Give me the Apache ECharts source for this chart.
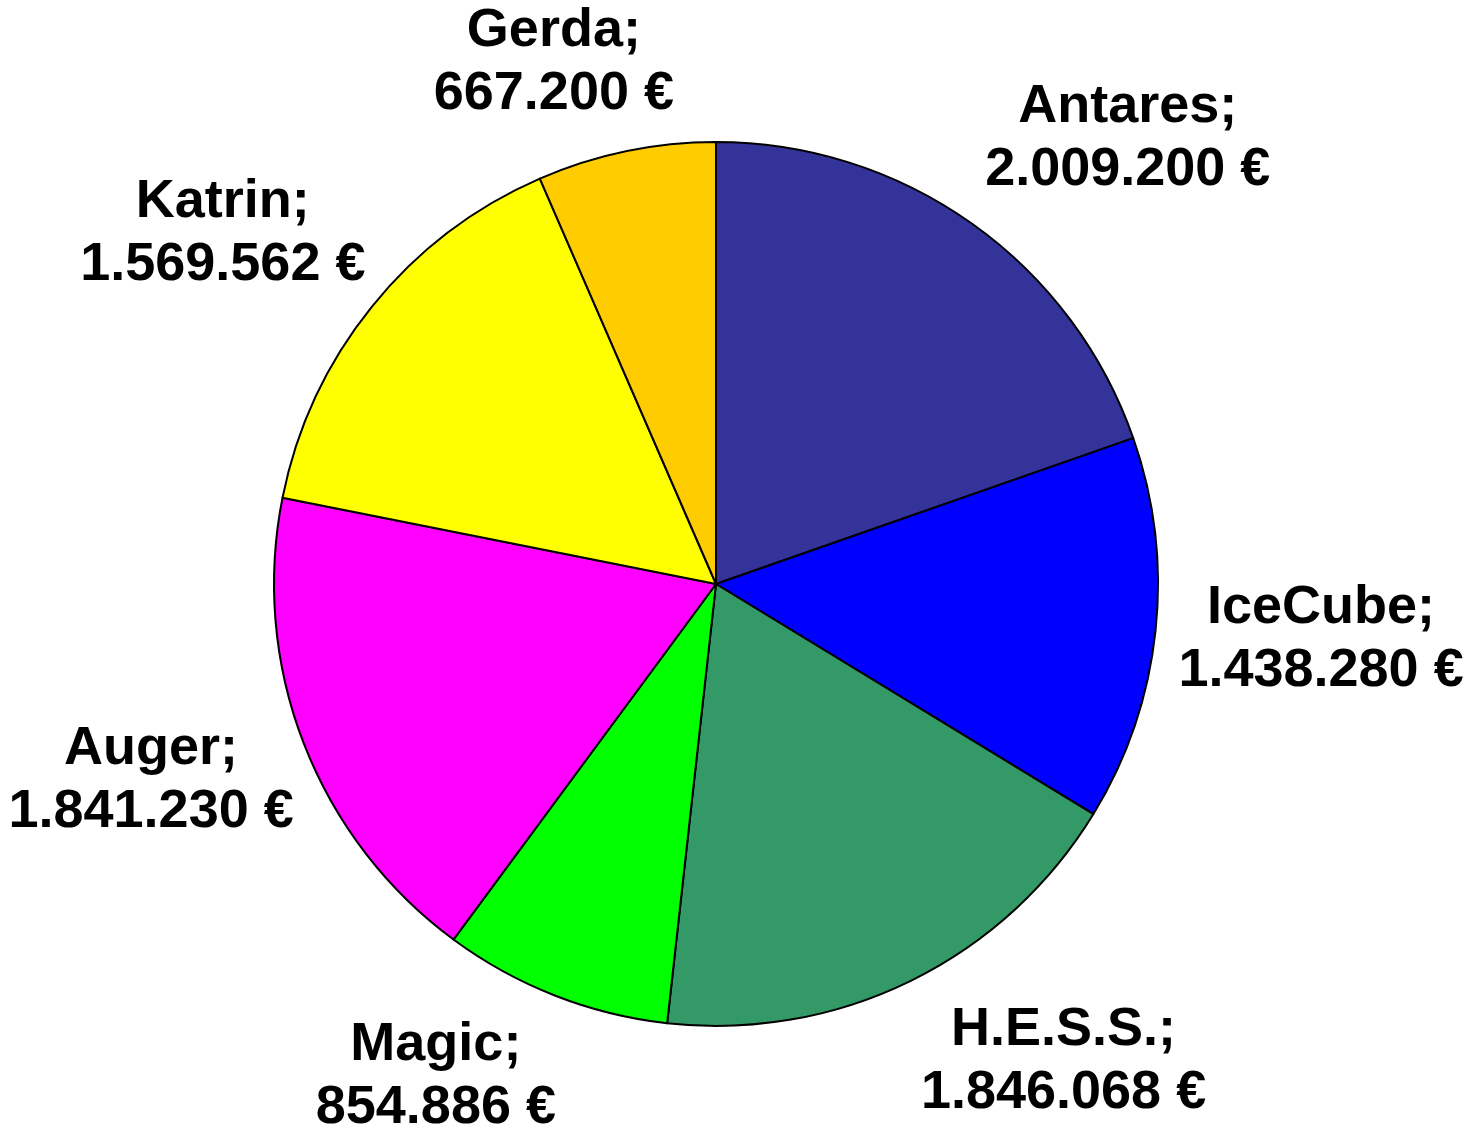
<!DOCTYPE html>
<html>
<head>
<meta charset="utf-8">
<script src="https://cdn.jsdelivr.net/npm/echarts@6/dist/echarts.min.js"></script>
<style>
  html, body { margin: 0; padding: 0; background: #fff; }
  #chart { width: 1472px; height: 1137px; }
</style>
</head>
<body>
<div id="chart"></div>
<script>
// Werte aus dem Bild (Euro)
const names = ["Antares", "IceCube", "H.E.S.S.", "Magic", "Auger", "Katrin", "Gerda"];
const values = [2009200, 1438280, 1846068, 854886, 1841230, 1569562, 667200];
const colors = ["#333399", "#0000FF", "#339966", "#00FF00", "#FF00FF", "#FFFF00", "#FFCC00"];

const center = [716, 584];
const radius = 442;

function euro(v) {
  return String(v).replace(/\B(?=(\d{3})+(?!\d))/g, ".") + " €";
}

// Mittelwinkel jedes Stücks (im Uhrzeigersinn ab 12 Uhr)
const total = values.reduce((a, b) => a + b, 0);
let acc = 0;
const midAngles = values.map(v => {
  let mid = (acc + v / 2) / total * Math.PI * 2;
  acc += v;
  return mid;
});

const clamp = v => Math.max(-1, Math.min(1, v));

let chart = echarts.init(document.getElementById("chart"));
chart.setOption({
  animation: false,
  series: [
    {
      type: "pie",
      center: center,
      radius: radius,
      startAngle: 90,
      clockwise: true,
      data: names.map((n, i) => ({ name: n, value: values[i], itemStyle: { color: colors[i] } })),
      itemStyle: {
        borderColor: "#000",
        borderWidth: 2,
      },
      label: {
        show: true,
        position: "outside",
        overflow: "none",
        formatter: p => p.name + ";\n" + euro(p.value),
        fontFamily: "Liberation Sans, Arial, sans-serif",
        fontWeight: "bold",
        fontSize: 54,
        lineHeight: 63,
        color: "#000",
      },
      labelLine: { show: false },
      // Beschriftung außen am Stück, wie in Excel
      labelLayout: function (params) {
        let a = midAngles[params.dataIndex];
        let ux = Math.sin(a), uy = -Math.cos(a);
        let d = radius + 23;
        let w = params.labelRect.width, h = params.labelRect.height;
        let fx = clamp(3 * ux) * (ux < 0 ? 0.92 : 1);
        return {
          x: center[0] + d * ux + w / 2 * fx,
          y: center[1] + d * uy + h / 2 * clamp(1.4 * uy) - 3,
          align: "center",
          verticalAlign: "middle",
        };
      },
      emphasis: { disabled: true },
    },
  ],
});
</script>
</body>
</html>
